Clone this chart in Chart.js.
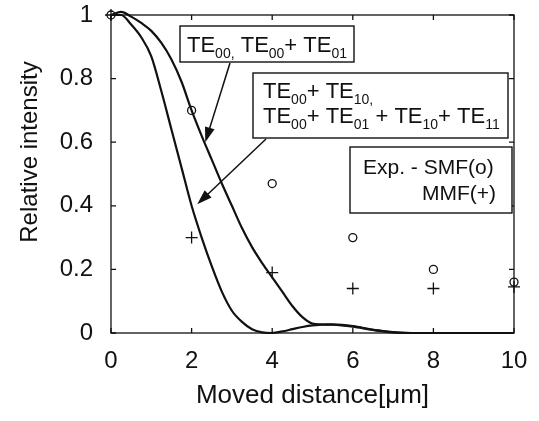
<!DOCTYPE html>
<html>
<head>
<meta charset="utf-8">
<script src="https://cdn.jsdelivr.net/npm/chart.js@4.4.0/dist/chart.umd.min.js"></script>
<style>
html, body { margin: 0; padding: 0; background: #fff; }
#wrap { width: 539px; height: 421px; }
</style>
</head>
<body>
<div id="wrap"><canvas id="c"></canvas></div>
<script>
'use strict';

// moved distance [um] at which the simulated curves were read
const distance = [0, 0.25, 0.5, 0.75, 1, 1.25, 1.5, 1.75, 2, 2.25, 2.5, 2.75, 3, 3.25, 3.5, 3.75,
    4, 4.25, 4.5, 4.75, 5, 5.5, 6, 6.5, 7, 7.5, 8, 9, 10];
// TE00, TE00+TE01
const outer_curve = [1, 1.01, 0.995, 0.975, 0.95, 0.912, 0.86, 0.79, 0.70, 0.62, 0.545, 0.47, 0.40, 0.33, 0.27, 0.22,
    0.175, 0.13, 0.085, 0.05, 0.03, 0.026, 0.02, 0.01, 0.003, 0, 0, 0, 0];
// TE00+TE10, TE00+TE01+TE10+TE11
const inner_curve = [1, 1, 0.97, 0.93, 0.87, 0.76, 0.64, 0.52, 0.40, 0.30, 0.21, 0.13, 0.07, 0.035, 0.012, 0.002,
    0, 0.005, 0.012, 0.019, 0.024, 0.027, 0.022, 0.01, 0.002, 0, 0, 0, 0];

// measured points
const exp_distance = [0, 2, 4, 6, 8, 10];
const smf_values = [1, 0.70, 0.47, 0.30, 0.20, 0.16];
const mmf_values = [1, 0.30, 0.19, 0.14, 0.14, 0.145];

const x_ticks = [0, 2, 4, 6, 8, 10];
const y_ticks = [0, 0.2, 0.4, 0.6, 0.8, 1];
const y_tick_labels = ['0', '0.2', '0.4', '0.6', '0.8', '1'];

const FONT = '"Liberation Sans", Arial, sans-serif';

const to_points = (xs, ys) => xs.map((x, i) => ({ x: x, y: ys[i] }));

// text with subscripts: parts = [[text, is_sub], ...]
const rich_text = (ctx, parts, x, y, size, align) => {
    const sub = Math.round(size * 0.64);
    let total = 0;
    parts.forEach(p => {
        ctx.font = (p[1] ? sub : size) + 'px ' + FONT;
        total += ctx.measureText(p[0]).width;
    });
    let cx = align === 'right' ? x - total : x;
    ctx.textAlign = 'left';
    ctx.textBaseline = 'alphabetic';
    parts.forEach(p => {
        ctx.font = (p[1] ? sub : size) + 'px ' + FONT;
        ctx.fillText(p[0], cx, p[1] ? y + size * 0.27 : y);
        cx += ctx.measureText(p[0]).width;
    });
};

const arrow = (ctx, x0, y0, x1, y1) => {
    const ang = Math.atan2(y1 - y0, x1 - x0);
    const len = 15, half = 5;
    ctx.beginPath();
    ctx.moveTo(x0, y0);
    ctx.lineTo(x1 - Math.cos(ang) * len * 0.8, y1 - Math.sin(ang) * len * 0.8);
    ctx.stroke();
    ctx.beginPath();
    ctx.moveTo(x1, y1);
    ctx.lineTo(x1 - Math.cos(ang) * len - Math.sin(ang) * half, y1 - Math.sin(ang) * len + Math.cos(ang) * half);
    ctx.lineTo(x1 - Math.cos(ang) * len + Math.sin(ang) * half, y1 - Math.sin(ang) * len - Math.cos(ang) * half);
    ctx.closePath();
    ctx.fill();
};

const frame_plugin = {
    id: 'frame',
    afterDraw(chart) {
        const ctx = chart.ctx;
        const a = chart.chartArea;
        const xs = chart.scales.x, ys = chart.scales.y;
        ctx.save();
        ctx.strokeStyle = '#111';
        ctx.fillStyle = '#111';
        ctx.lineWidth = 1.3;
        ctx.strokeRect(a.left, a.top, a.right - a.left, a.bottom - a.top);

        // inward ticks on all four sides
        const tl = 5;
        ctx.beginPath();
        x_ticks.forEach(v => {
            const px = xs.getPixelForValue(v);
            ctx.moveTo(px, a.bottom); ctx.lineTo(px, a.bottom - tl);
            ctx.moveTo(px, a.top); ctx.lineTo(px, a.top + tl);
        });
        y_ticks.forEach(v => {
            const py = ys.getPixelForValue(v);
            ctx.moveTo(a.left, py); ctx.lineTo(a.left + tl, py);
            ctx.moveTo(a.right, py); ctx.lineTo(a.right - tl, py);
        });
        ctx.stroke();

        // y axis title
        ctx.save();
        ctx.translate(30, 152);
        ctx.rotate(-Math.PI / 2);
        ctx.font = '24px ' + FONT;
        ctx.textAlign = 'center';
        ctx.textBaseline = 'middle';
        ctx.fillText('Relative intensity', 0, 0);
        ctx.restore();

        // annotation boxes
        ctx.lineWidth = 1.4;
        ctx.fillStyle = '#fff';
        ctx.fillRect(180, 26, 174, 36);
        ctx.fillRect(253, 73, 255, 65);
        ctx.fillRect(350, 147, 162, 66);
        ctx.strokeRect(180, 26, 174, 36);
        ctx.strokeRect(253, 73, 255, 65);
        ctx.strokeRect(350, 147, 162, 66);

        ctx.fillStyle = '#111';
        rich_text(ctx, [['TE', 0], ['00,', 1], [' TE', 0], ['00', 1], ['+ TE', 0], ['01', 1]], 187, 52, 22);
        rich_text(ctx, [['TE', 0], ['00', 1], ['+ TE', 0], ['10', 1], [',', 1]], 263, 98, 22);
        rich_text(ctx, [['TE', 0], ['00', 1], ['+ TE', 0], ['01', 1], [' + TE', 0], ['10', 1], ['+ TE', 0], ['11', 1]], 263, 123, 22);
        rich_text(ctx, [['Exp. - SMF(o)', 0]], 363, 174, 21);
        rich_text(ctx, [['MMF(+)', 0]], 496, 200, 21, 'right');

        // arrows to the curves
        ctx.lineWidth = 1.5;
        arrow(ctx, 230, 63, xs.getPixelForValue(2.34), ys.getPixelForValue(0.6));
        arrow(ctx, 266, 139, xs.getPixelForValue(2.14), ys.getPixelForValue(0.405));
        ctx.restore();
    }
};

const line_style = {
    showLine: true,
    pointRadius: 0,
    borderColor: '#111',
    borderWidth: 2.2,
    cubicInterpolationMode: 'monotone',
    clip: 6,
};

const no_pad = (s) => {
    s.paddingTop = 0; s.paddingBottom = 0; s.paddingLeft = 0; s.paddingRight = 0;
};

new Chart(document.getElementById('c'), {
    type: 'scatter',
    data: {
        datasets: [
            Object.assign({ label: 'TE00, TE00+TE01', data: to_points(distance, outer_curve) }, line_style),
            Object.assign({ label: 'TE00+TE10, TE00+TE01+TE10+TE11', data: to_points(distance, inner_curve) }, line_style),
            {
                label: 'Exp. - SMF(o)',
                data: to_points(exp_distance, smf_values),
                pointStyle: 'circle',
                pointRadius: 4,
                borderWidth: 1.3,
                borderColor: '#111',
                backgroundColor: 'rgba(0,0,0,0)',
                clip: 8,
            },
            {
                label: 'MMF(+)',
                data: to_points(exp_distance, mmf_values),
                pointStyle: 'cross',
                pointRadius: 6,
                borderWidth: 1.3,
                borderColor: '#111',
                clip: 8,
            },
        ],
    },
    options: {
        responsive: true,
        maintainAspectRatio: false,
        animation: false,
        layout: { padding: { top: 15, right: 25, left: 0, bottom: 0 } },
        plugins: { legend: { display: false }, tooltip: { enabled: false } },
        scales: {
            x: {
                type: 'linear',
                min: 0,
                max: 10,
                afterFit: (s) => { s.height = 88; no_pad(s); },
                afterBuildTicks: (s) => { s.ticks = x_ticks.map(v => ({ value: v })); },
                grid: { display: false, drawTicks: false },
                border: { display: false },
                ticks: { color: '#111', font: { family: FONT, size: 24 }, padding: 14 },
                title: {
                    display: true,
                    text: 'Moved distance[μm]',
                    color: '#111',
                    font: { family: FONT, size: 26 },
                    padding: { top: 0, bottom: 10 },
                },
            },
            y: {
                type: 'linear',
                min: 0,
                max: 1,
                afterFit: (s) => { s.width = 111; no_pad(s); },
                afterBuildTicks: (s) => { s.ticks = y_ticks.map(v => ({ value: v })); },
                grid: { display: false, drawTicks: false },
                border: { display: false },
                ticks: {
                    color: '#111',
                    font: { family: FONT, size: 24 },
                    padding: 18,
                    callback: (v) => y_tick_labels[y_ticks.indexOf(v)] ?? String(v),
                },
            },
        },
    },
    plugins: [frame_plugin],
});
</script>
</body>
</html>
